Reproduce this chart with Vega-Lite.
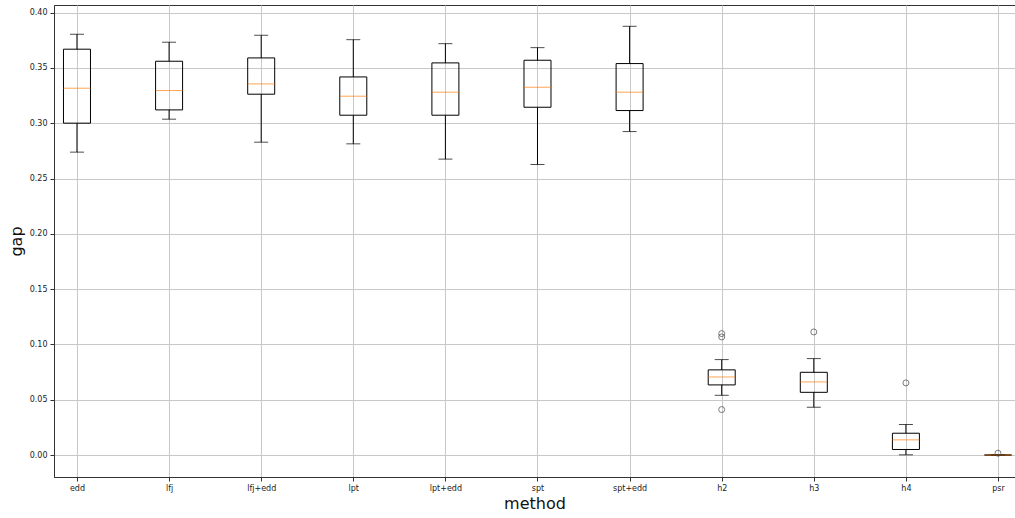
{
  "$schema": "https://vega.github.io/schema/vega-lite/v6.json",
  "width": 961,
  "height": 472,
  "autosize": {"type": "none"},
  "padding": {"left": 54, "top": 5, "right": 0, "bottom": 41},
  "background": "white",
  "config": {
    "font": "DejaVu Sans",
    "view": {"stroke": "#333333", "strokeWidth": 1},
    "axis": {
      "labelFont": "DejaVu Sans",
      "titleFont": "DejaVu Sans",
      "labelFontSize": 8,
      "labelColor": "#222222",
      "titleFontSize": 16,
      "titleFontWeight": "normal",
      "titleColor": "#111111",
      "domainColor": "#333333",
      "tickColor": "#333333",
      "tickSize": 4,
      "labelPadding": 3,
      "gridColor": "#c8c8c8",
      "gridWidth": 1
    }
  },
  "datasets": {
    "stats": [
      {"method": "edd", "lower": 0.2739, "q1": 0.3001, "median": 0.3317, "q3": 0.3670, "upper": 0.3805},
      {"method": "lfj", "lower": 0.3037, "q1": 0.3121, "median": 0.3296, "q3": 0.3561, "upper": 0.3733},
      {"method": "lfj+edd", "lower": 0.2829, "q1": 0.3263, "median": 0.3356, "q3": 0.3591, "upper": 0.3796},
      {"method": "lpt", "lower": 0.2814, "q1": 0.3073, "median": 0.3245, "q3": 0.3419, "upper": 0.3756},
      {"method": "lpt+edd", "lower": 0.2676, "q1": 0.3073, "median": 0.3281, "q3": 0.3546, "upper": 0.3720},
      {"method": "spt", "lower": 0.2627, "q1": 0.3145, "median": 0.3326, "q3": 0.3570, "upper": 0.3684},
      {"method": "spt+edd", "lower": 0.2925, "q1": 0.3115, "median": 0.3281, "q3": 0.3540, "upper": 0.3877},
      {"method": "h2", "lower": 0.0540, "q1": 0.0634, "median": 0.0706, "q3": 0.0770, "upper": 0.0863},
      {"method": "h3", "lower": 0.0432, "q1": 0.0567, "median": 0.0661, "q3": 0.0748, "upper": 0.0872},
      {"method": "h4", "lower": 0.0002, "q1": 0.0050, "median": 0.0137, "q3": 0.0197, "upper": 0.0276},
      {"method": "psr", "lower": 0.0, "q1": 0.0, "median": 0.0, "q3": 0.0, "upper": 0.0}
    ],
    "outliers": [
      {"method": "h2", "gap": 0.1098},
      {"method": "h2", "gap": 0.1068},
      {"method": "h2", "gap": 0.0411},
      {"method": "h3", "gap": 0.1113},
      {"method": "h4", "gap": 0.0652},
      {"method": "psr", "gap": 0.0016}
    ]
  },
  "data": {"name": "stats"},
  "encoding": {
    "x": {
      "field": "method",
      "type": "nominal",
      "sort": ["edd", "lfj", "lfj+edd", "lpt", "lpt+edd", "spt", "spt+edd", "h2", "h3", "h4", "psr"],
      "scale": {"type": "point", "padding": 0.217, "align": 0.575},
      "axis": {"title": "method", "labelAngle": 0, "grid": true, "titlePadding": 3}
    }
  },
  "layer": [
    {
      "mark": {"type": "rule", "color": "black", "strokeWidth": 1},
      "encoding": {
        "y": {
          "field": "lower",
          "type": "quantitative",
          "scale": {"domain": [-0.01988, 0.40696], "nice": false, "zero": false},
          "axis": {"title": "gap", "values": [0, 0.05, 0.1, 0.15, 0.2, 0.25, 0.3, 0.35, 0.4], "format": ".2f", "grid": true, "titlePadding": 5}
        },
        "y2": {"field": "q1"}
      }
    },
    {
      "mark": {"type": "rule", "color": "black", "strokeWidth": 1},
      "encoding": {
        "y": {"field": "q3", "type": "quantitative"},
        "y2": {"field": "upper"}
      }
    },
    {
      "mark": {"type": "bar", "filled": false, "stroke": "black", "strokeWidth": 1, "size": 27},
      "encoding": {
        "y": {"field": "q1", "type": "quantitative"},
        "y2": {"field": "q3"}
      }
    },
    {
      "mark": {"type": "tick", "color": "black", "size": 14, "thickness": 1},
      "encoding": {"y": {"field": "lower", "type": "quantitative"}}
    },
    {
      "mark": {"type": "tick", "color": "black", "size": 14, "thickness": 1},
      "encoding": {"y": {"field": "upper", "type": "quantitative"}}
    },
    {
      "mark": {"type": "tick", "color": "#ff7f0e", "size": 27, "thickness": 1},
      "encoding": {"y": {"field": "median", "type": "quantitative"}}
    },
    {
      "data": {"name": "outliers"},
      "mark": {"type": "point", "shape": "circle", "filled": false, "stroke": "#444444", "strokeWidth": 1, "size": 36},
      "encoding": {"y": {"field": "gap", "type": "quantitative"}}
    }
  ]
}
